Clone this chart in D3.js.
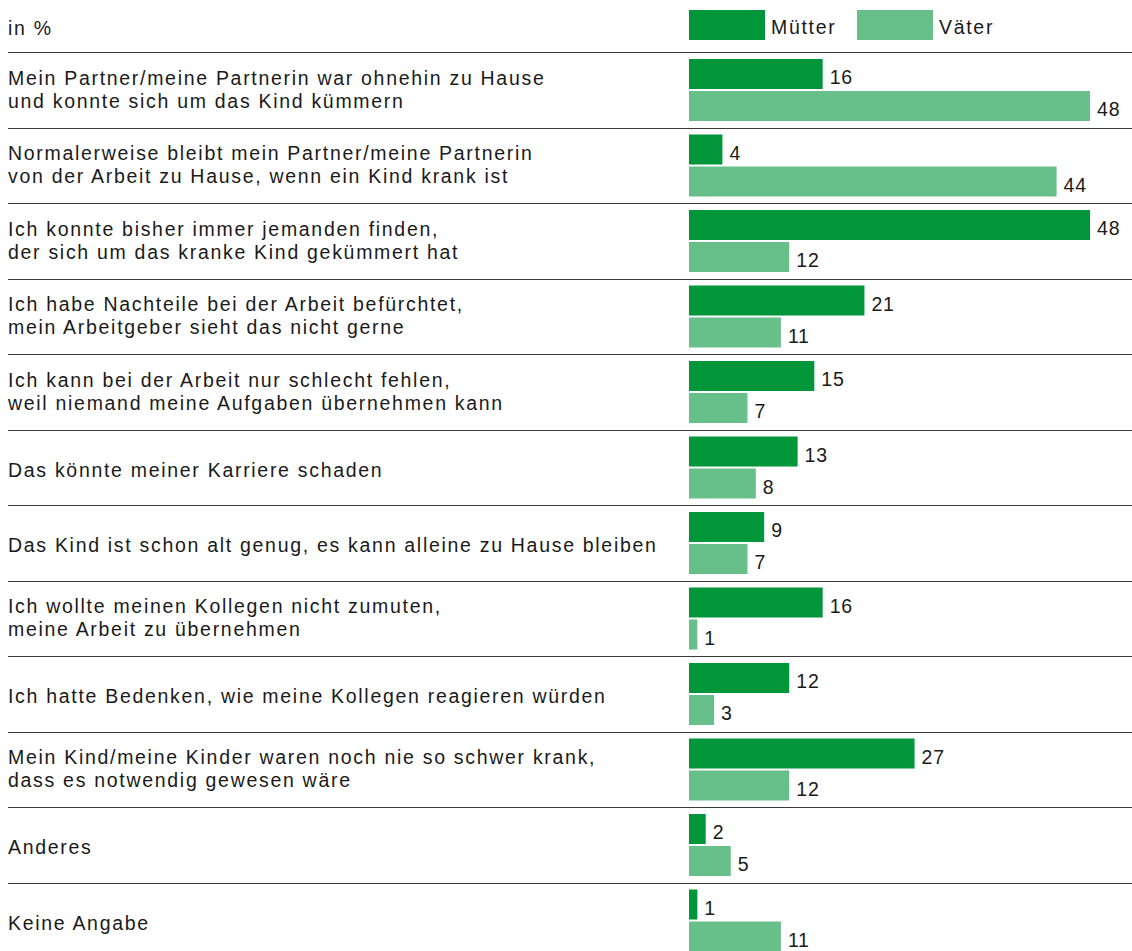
<!DOCTYPE html>
<html>
<head>
<meta charset="utf-8">
<script src="https://cdn.jsdelivr.net/npm/d3@7"></script>
<style>
  body { margin: 0; background: #fff; }
  svg text { font-family: "Liberation Sans", Arial, sans-serif; fill: #1a1a1a; font-size: 19.5px; letter-spacing: 1.7px; }
  svg text.val { letter-spacing: 0.8px; }
</style>
</head>
<body>
<script>
// categories (each label split into lines)
var categories = [
    ["Mein Partner/meine Partnerin war ohnehin zu Hause", "und konnte sich um das Kind kümmern"],
    ["Normalerweise bleibt mein Partner/meine Partnerin", "von der Arbeit zu Hause, wenn ein Kind krank ist"],
    ["Ich konnte bisher immer jemanden finden,", "der sich um das kranke Kind gekümmert hat"],
    ["Ich habe Nachteile bei der Arbeit befürchtet,", "mein Arbeitgeber sieht das nicht gerne"],
    ["Ich kann bei der Arbeit nur schlecht fehlen,", "weil niemand meine Aufgaben übernehmen kann"],
    ["Das könnte meiner Karriere schaden"],
    ["Das Kind ist schon alt genug, es kann alleine zu Hause bleiben"],
    ["Ich wollte meinen Kollegen nicht zumuten,", "meine Arbeit zu übernehmen"],
    ["Ich hatte Bedenken, wie meine Kollegen reagieren würden"],
    ["Mein Kind/meine Kinder waren noch nie so schwer krank,", "dass es notwendig gewesen wäre"],
    ["Anderes"],
    ["Keine Angabe"]
];
var muetter = [16, 4, 48, 21, 15, 13, 9, 16, 12, 27, 2, 1];
var vaeter  = [48, 44, 12, 11, 7, 8, 7, 1, 3, 12, 5, 11];
var seriesNames = ["Mütter", "Väter"];
var colors = ["#009639", "#67c089"];
var unitLabel = "in %";

var width = 1132, height = 951;
var left = 8, barX = 689;
var rowTop = 52, rowH = 75.5;
var barH = 30, barGap = 2;

var svg = d3.select("body").append("svg")
    .attr("width", width)
    .attr("height", height);

var x = d3.scaleLinear().domain([0, 48]).range([barX, 1090]);

var y = d3.scaleBand()
    .domain(d3.range(categories.length))
    .range([rowTop, rowTop + rowH * categories.length])
    .paddingInner(0).paddingOuter(0);

// header
svg.append("text")
    .attr("x", left).attr("y", 35)
    .text(unitLabel);

var legend = svg.append("g");
var legX = [689, 857];
seriesNames.forEach(function (name, i) {
    legend.append("rect")
        .attr("x", legX[i]).attr("y", 10)
        .attr("width", 76).attr("height", 30)
        .attr("fill", colors[i]);
    legend.append("text")
        .attr("x", legX[i] + 82).attr("y", 34)
        .text(name);
});

// separators
var seps = d3.range(categories.length);
svg.append("g").selectAll("line")
    .data(seps)
    .enter().append("line")
    .attr("x1", left).attr("x2", width)
    .attr("y1", function (i) { return Math.round(y(i)) + 0.5; })
    .attr("y2", function (i) { return Math.round(y(i)) + 0.5; })
    .attr("stroke", "#3a3a3a")
    .attr("stroke-width", 1);

var rows = svg.append("g").selectAll("g.row")
    .data(categories)
    .enter().append("g")
    .attr("class", "row")
    .attr("transform", function (d, i) { return "translate(0," + y(i) + ")"; });

// category labels
rows.append("text")
    .each(function (d) {
        var t = d3.select(this);
        var mid = rowH / 2;
        if (d.length === 1) {
            t.append("tspan").attr("x", left).attr("y", mid + 9.5).text(d[0]);
        } else {
            t.append("tspan").attr("x", left).attr("y", mid - 5).text(d[0]);
            t.append("tspan").attr("x", left).attr("y", mid + 18).text(d[1]);
        }
    });

var series = [muetter, vaeter];
series.forEach(function (vals, s) {
    var by = 7 + s * (barH + barGap);
    rows.append("rect")
        .attr("x", x(0))
        .attr("y", by)
        .attr("width", function (d, i) { return x(vals[i]) - x(0); })
        .attr("height", barH)
        .attr("fill", colors[s]);
    rows.append("text")
        .attr("class", "val")
        .attr("x", function (d, i) { return x(vals[i]) + 7; })
        .attr("y", by + barH - 5)
        .text(function (d, i) { return vals[i]; });
});
</script>
</body>
</html>
